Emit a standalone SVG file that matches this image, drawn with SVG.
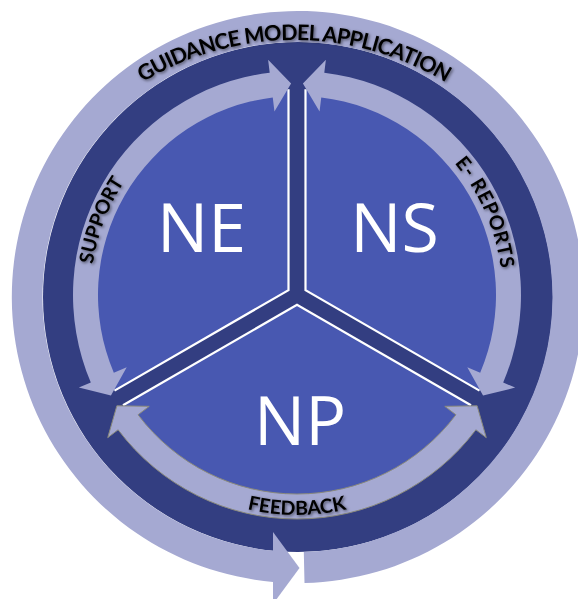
<svg xmlns="http://www.w3.org/2000/svg" width="578" height="599" viewBox="0 0 578 599">
  <defs>
    <filter id="shadow" x="-20%" y="-40%" width="140%" height="180%">
      <feDropShadow dx="1.3" dy="1.3" stdDeviation="1.4" flood-color="#000" flood-opacity="0.55"/>
    </filter>
    <path id="arcTop" d="M 41.12 186 A 292 292 0 0 1 546.88 186"/>
    <path id="arcSupport" d="M 101.87 362.57 A 206.5 206.5 0 0 1 196.58 114.56"/>
    <path id="arcReports" d="M 388.37 110.93 A 205.5 205.5 0 0 1 494.14 353.02"/>
    <path id="arcFeedback" d="M 155.59 463.53 A 220 220 0 0 0 438.41 463.53"/>
  </defs>
  <style>
    .light { fill: #A5A9D2; }
    .dark { fill: #333E81; }
    .sector { fill: #4858B1; }
    .edge { fill: none; stroke: #FFFFFF; stroke-width: 2.2; stroke-linejoin: miter; }
    .big { font-family: "Open Sans", "Liberation Sans", sans-serif; font-size: 68px; fill: #FFFFFF; text-anchor: middle; }
    .lbl { font-family: Lato, "Open Sans", "Liberation Sans", sans-serif; font-weight: bold; fill: #000000; filter: url(#shadow); }
    .outline { stroke: #8A8A7C; stroke-width: 1; }
  </style>

  <!-- base dark disc -->
  <circle id="base" class="dark" cx="298" cy="297" r="255"/>

  <g id="connectors">
    <!-- outer cycle arrow -->
    <g id="guidance-cycle">
      <path class="light" d="M 273 581.9 A 286 286 0 1 1 304.5 582.9 L 303.8 551.9 A 255 255 0 1 0 273 550.8 Z"/>
      <path class="light" d="M 273 532 L 299.5 568 L 273 604 Z"/>
    </g>
  </g>

  <g id="node-NE">
    <path class="sector" d="M 288.5 290.1 L 288.5 89.2 A 206 206 0 0 0 114.5 390.6 Z"/>
    <polyline class="edge" points="288.5,89.2 288.5,290.1 114.5,390.6"/>
    <text class="big" x="201.5" y="252">NE</text>
  </g>
  <g id="node-NS">
    <path class="sector" d="M 305.5 290.1 L 305.5 89.2 A 206 206 0 0 1 479.5 390.6 Z"/>
    <polyline class="edge" points="305.5,89.2 305.5,290.1 479.5,390.6"/>
    <text class="big" x="394.5" y="252">NS</text>
  </g>
  <g id="node-NP">
    <path class="sector" d="M 297 304.8 L 123 405.3 A 206 206 0 0 0 471 405.3 Z"/>
    <polyline class="edge" points="123,405.3 297,304.8 471,405.3"/>
    <text class="big" x="300" y="445">NP</text>
  </g>

  <g id="connectors-inner">
    <path id="support" class="light" d="M 269.70 72.67 A 224 224 0 0 0 90.81 382.52 L 78.84 387.60 L 110.95 395.59 L 126.71 367.29 L 113.82 372.76 A 199 199 0 0 1 272.75 97.48 L 274.45 111.38 L 291.09 83.58 L 268.12 59.77 Z"/>
    <path id="e-reports" class="light" d="M 324.30 72.67 A 224 224 0 0 1 503.19 382.52 L 515.16 387.60 L 483.05 395.59 L 467.29 367.29 L 480.18 372.76 A 199 199 0 0 0 321.25 97.48 L 319.55 111.38 L 302.91 83.58 L 325.88 59.77 Z"/>
    <path id="feedback" class="light outline" d="M 475.89 429.81 A 224 224 0 0 1 118.11 429.81 L 107.72 437.63 L 116.86 405.82 L 149.25 406.34 L 138.07 414.76 A 199 199 0 0 0 455.93 414.76 L 444.75 406.34 L 477.14 405.82 L 486.28 437.63 Z"/>
  </g>

  <g id="labels">
    <text class="lbl" font-size="21.5" letter-spacing="-0.8"><textPath href="#arcTop" startOffset="50%" text-anchor="middle">GUIDANCE MODEL APPLICATION</textPath></text>
    <text class="lbl" font-size="19.5"><textPath href="#arcSupport" startOffset="50%" text-anchor="middle">SUPPORT</textPath></text>
    <text class="lbl" font-size="19.5" letter-spacing="0.8"><textPath href="#arcReports" startOffset="50%" text-anchor="middle">E- REPORTS</textPath></text>
    <text class="lbl" font-size="19.5"><textPath href="#arcFeedback" startOffset="50%" text-anchor="middle">FEEDBACK</textPath></text>
  </g>
</svg>
